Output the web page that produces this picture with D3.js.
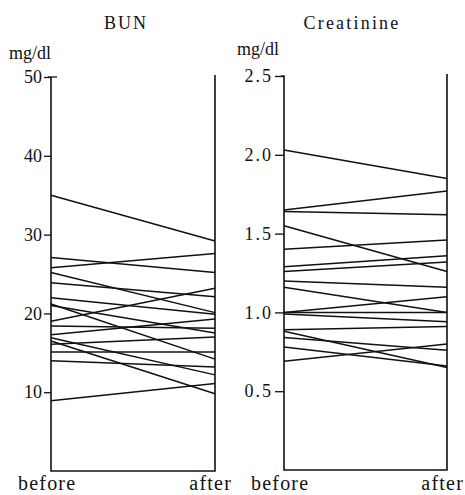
<!DOCTYPE html>
<html>
<head>
<meta charset="utf-8">
<script src="https://cdn.jsdelivr.net/npm/d3@7"></script>
<style>
  body { margin: 0; background: #fff; }
</style>
</head>
<body>
<div class="chart"></div>
<script>
var serif = "'Liberation Serif', 'Times New Roman', Times, 'DejaVu Serif', serif";
var times = ["before", "after"];

// BUN (mg/dl), before -> after
var bunBefore = [35.0, 27.1, 25.8, 25.2, 23.9, 22.0, 21.2, 21.0, 19.0, 18.4, 17.3, 16.9, 16.5, 16.1, 15.1, 14.0, 8.9];
var bunAfter  = [29.2, 25.2, 27.6, 20.1, 22.1, 19.9, 14.2, 17.5, 23.2, 18.1, 19.3, 12.2, 9.8, 17.0, 15.1, 13.2, 11.1];
var bunTicks = [10, 20, 30, 40, 50];

// Creatinine (mg/dl), before -> after
var creBefore = [2.03, 1.65, 1.64, 1.55, 1.40, 1.29, 1.26, 1.20, 1.16, 1.00, 1.00, 0.99, 0.89, 0.88, 0.84, 0.78, 0.69];
var creAfter  = [1.85, 1.77, 1.62, 1.26, 1.46, 1.36, 1.32, 1.16, 1.00, 1.10, 1.00, 0.94, 0.91, 0.65, 0.76, 0.66, 0.80];
var creTicks = [0.5, 1.0, 1.5, 2.0, 2.5];

var svg = d3.select(".chart")
  .append("svg")
    .attr("width", 465)
    .attr("height", 495)
    .style("font-family", serif);

function panel(opt) {
  var y = d3.scaleLinear().domain(opt.domain).range([opt.bottom, opt.top]);
  var x = d3.scalePoint().domain(times).range([opt.left, opt.right]);
  var g = svg.append("g");

  // left axis
  var ax = g.append("g")
    .attr("transform", "translate(" + opt.left + ",0)")
    .call(d3.axisLeft(y)
      .tickValues(opt.ticks)
      .tickSize(opt.tick)
      .tickSizeOuter(0)
      .tickPadding(2)
      .tickFormat(opt.fmt));
  ax.attr("font-family", null);
  ax.select(".domain").remove();
  ax.selectAll(".tick line").attr("stroke", "#111").attr("stroke-width", 1.3);
  ax.selectAll(".tick text")
    .style("font-family", serif)
    .style("font-size", "18px")
    .style("letter-spacing", opt.spacing + "px")
    .attr("fill", "#111");

  // frame: left axis, right line, bottom line
  g.append("path")
    .attr("d", "M" + opt.left + "," + y(opt.domain[1]) +
               "V" + opt.bottom + "H" + opt.right + "V" + (y(opt.domain[1]) - 2))
    .attr("fill", "none")
    .attr("stroke", "#111")
    .attr("stroke-width", 1.6);
  // cap at top
  g.append("line")
    .attr("x1", opt.left - 3).attr("x2", opt.left + opt.cap)
    .attr("y1", y(opt.domain[1])).attr("y2", y(opt.domain[1]))
    .attr("stroke", "#111").attr("stroke-width", 1.3);

  // before/after lines
  var pairs = opt.before.map(function(b, i) { return [b, opt.after[i]]; });
  g.selectAll(".pair")
    .data(pairs)
    .enter()
    .append("line")
    .attr("x1", x("before"))
    .attr("x2", x("after"))
    .attr("y1", function(d) { return y(d[0]); })
    .attr("y2", function(d) { return y(d[1]); })
    .attr("stroke", "#111")
    .attr("stroke-width", 1.5);

  // titles
  g.append("text")
    .attr("x", opt.titleX).attr("y", 29)
    .attr("text-anchor", "middle")
    .style("font-size", "18px")
    .style("letter-spacing", opt.titleSpacing + "px")
    .attr("fill", "#111")
    .text(opt.title);
  g.append("text")
    .attr("x", opt.unitX).attr("y", opt.unitY)
    .style("font-size", "18px")
    .attr("fill", "#111")
    .text("mg/dl");

  g.append("text")
    .attr("x", opt.left - 33).attr("y", 490)
    .style("font-size", "20px")
    .style("letter-spacing", "1.2px")
    .attr("fill", "#111")
    .text("before");
  g.append("text")
    .attr("x", opt.right + 17).attr("y", 490)
    .attr("text-anchor", "end")
    .style("font-size", "20px")
    .style("letter-spacing", "1.2px")
    .attr("fill", "#111")
    .text("after");
}

panel({
  domain: [0, 50], top: 77, bottom: 471, left: 51, right: 215,
  ticks: bunTicks, tick: 7, cap: 6, fmt: d3.format("d"), spacing: 0,
  before: bunBefore, after: bunAfter,
  title: "BUN", titleX: 126, titleSpacing: 2,
  unitX: 9, unitY: 59
});

panel({
  domain: [0, 2.5], top: 76, bottom: 470, left: 284, right: 447,
  ticks: creTicks, tick: 9, cap: 1, fmt: d3.format(".1f"), spacing: 2,
  before: creBefore, after: creAfter,
  title: "Creatinine", titleX: 352, titleSpacing: 2.2,
  unitX: 237, unitY: 55
});
</script>
</body>
</html>
